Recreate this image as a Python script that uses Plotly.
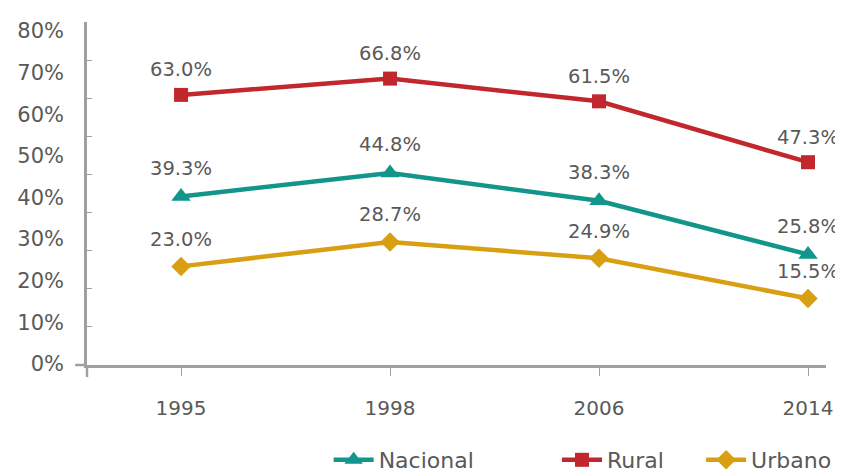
import plotly.graph_objects as go

years = ["1995", "1998", "2006", "2014"]
nacional = [39.3, 44.8, 38.3, 25.8]
rural = [63.0, 66.8, 61.5, 47.3]
urbano = [23.0, 28.7, 24.9, 15.5]
y_labels = [0, 10, 20, 30, 40, 50, 60, 70, 80]

FONT = "DejaVu Sans"
TXT = "#595959"
AX = "#A0A0A0"

series = [
    ("Nacional", nacional, "#12968B", "triangle-up", 17, "legend", 0.327, 28),
    ("Rural", rural, "#C1272D", "square", 14, "legend2", 0.636, 25),
    ("Urbano", urbano, "#D89F13", "diamond", 15, "legend3", 0.831, 27),
]

fig = go.Figure()
legends = {}
annotations = []
for name, vals, col, sym, sz, leg, lx, shift in series:
    fig.add_trace(go.Scatter(
        x=years, y=vals, name=name, mode="lines+markers",
        line=dict(color=col, width=4.5),
        marker=dict(symbol=sym, size=sz, color=col),
        cliponaxis=False, legend=leg, showlegend=True,
    ))
    for i, v in enumerate(vals):
        annotations.append(dict(
            x=i, y=v, xref="x", yref="y", text=f"{v:.1f}%", showarrow=False,
            yshift=shift, font=dict(family=FONT, size=19.5, color=TXT),
        ))
    legends[leg] = dict(
        orientation="h", x=lx, xanchor="left", y=-0.277, yanchor="middle",
        font=dict(family=FONT, size=22, color=TXT), bgcolor="rgba(0,0,0,0)",
        itemwidth=40,
    )
# carrier trace for the label axis
fig.add_trace(go.Scatter(x=[None], y=[None], yaxis="y2", showlegend=False,
                         hoverinfo="skip", mode="markers"))

fig.update_layout(
    width=843, height=473, showlegend=True,
    margin=dict(l=79, r=25, t=14, b=116, autoexpand=False),
    paper_bgcolor="white", plot_bgcolor="white",
    font=dict(family=FONT, color=TXT, size=19),
    xaxis=dict(
        type="category", range=[-0.45, 3.086],
        showline=True, linecolor=AX, linewidth=2.5,
        ticks="outside", ticklen=8, tickcolor=AX, tickwidth=1,
        showgrid=False, zeroline=False,
        tickfont=dict(family=FONT, size=20, color=TXT),
        ticklabelstandoff=15,
    ),
    yaxis=dict(
        range=[0, 80], tickvals=[k * 80 / 9 for k in range(10)],
        showticklabels=False,
        showline=True, linecolor=AX, linewidth=2.5,
        ticks="inside", ticklen=5, tickcolor=AX, tickwidth=1,
        showgrid=False, zeroline=False,
    ),
    yaxis2=dict(
        overlaying="y", side="left", range=[-0.24, 82.16],
        tickvals=y_labels, ticktext=[f"{v}%" for v in y_labels],
        showline=False, ticks="", showgrid=False, zeroline=False,
        tickfont=dict(family=FONT, size=21, color=TXT),
        ticklabelstandoff=22,
    ),
    annotations=annotations,
    shapes=[
        dict(type="line", xref="paper", yref="paper", x0=-0.016, x1=0, y0=0, y1=0,
             line=dict(color=AX, width=2.5)),
        dict(type="line", xref="paper", yref="paper", x0=0, x1=0, y0=0, y1=-0.035,
             line=dict(color=AX, width=2.5)),
    ],
    **legends,
)

fig.write_html("out.html")
